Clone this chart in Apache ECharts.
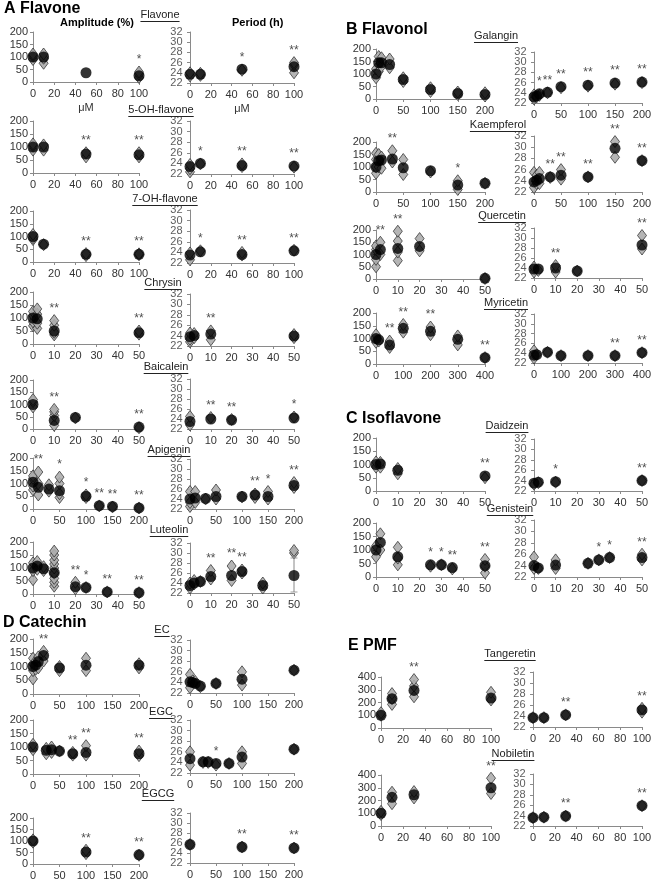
<!DOCTYPE html>
<html><head><meta charset="utf-8">
<script src="https://cdn.jsdelivr.net/npm/echarts@6/dist/echarts.min.js"></script>
<style>html,body{margin:0;padding:0;background:#fff}#c{width:661px;height:886px}</style>
</head><body><div id="c"></div>
<script>
// ---------------- DATA ----------------
const periodTicks = [22, 24, 26, 28, 30, 32];

const flavone_dose = [0, 10, 50, 100];
const flavone_amp = [100, 100, 37, 25];
const flavone_ampStar = ['', '', '', '*'];
const flavone_ampInd = [[90, 105, 112], [75, 95, 112], [], [18, 32, 40]];
const flavone_per = [23.7, 23.7, 24.7, 25.2];
const flavone_perStar = ['', '', '*', '**'];
const flavone_perInd = [[23.4, 24.0], [23.5, 23.9], [24.5], [24.0, 25.6, 26.0]];

const oh5_dose = [0, 10, 50, 100];
const oh5_amp = [100, 100, 73, 70];
const oh5_ampStar = ['', '', '**', '**'];
const oh5_ampInd = [[88, 105, 112], [88, 108], [62, 78], [62, 78]];
const oh5_per = [23.4, 24.0, 23.6, 23.5];
const oh5_perStar = ['', '*', '**', '**'];
const oh5_perInd = [[22.4, 23.0, 23.8], [23.9], [23.4, 23.9], [23.3]];

const oh7_dose = [0, 10, 50, 100];
const oh7_amp = [100, 70, 30, 30];
const oh7_ampStar = ['', '', '**', '**'];
const oh7_ampInd = [[88, 95, 108], [68], [25, 33], [28, 32]];
const oh7_per = [23.5, 24.1, 23.6, 24.3];
const oh7_perStar = ['', '*', '**', '**'];
const oh7_perInd = [[22.6, 23.9], [24.3], [23.5, 24.0], [24.4]];

const chrysin_dose = [0, 2, 10, 50];
const chrysin_amp = [100, 97, 50, 43];
const chrysin_ampStar = ['', '', '**', '**'];
const chrysin_ampInd = [[70, 85, 110, 125], [60, 80, 115, 135], [35, 45, 72, 90], [38, 50]];
const chrysin_per = [23.8, 24.0, 24.3, 23.9];
const chrysin_perStar = ['', '', '**', ''];
const chrysin_perInd = [[22.8, 23.3, 24.5], [23.6, 24.4], [23.2, 24.9], [23.6, 24.2]];

const baicalein_dose = [0, 10, 20, 50];
const baicalein_amp = [100, 35, 47, 8];
const baicalein_ampStar = ['', '**', '', '**'];
const baicalein_ampInd = [[90, 112, 120], [15, 55, 70, 80], [45], [5]];
const baicalein_per = [23.5, 24.0, 23.8, 24.2];
const baicalein_perStar = ['', '**', '**', '*'];
const baicalein_perInd = [[22.8, 24.5], [24.3], [23.9], [24.4]];

const apigenin_dose = [0, 10, 30, 50, 100, 125, 150, 200];
const apigenin_amp = [105, 85, 78, 72, 50, 13, 10, 4];
const apigenin_ampStar = ['', '**', '', '*', '*', '**', '**', '**'];
const apigenin_ampInd = [[75, 90, 120, 130], [55, 100, 145], [70, 95], [45, 60, 100, 125], [45, 55], [12], [8], [4]];
const apigenin_per = [24.0, 24.2, 24.1, 24.5, 24.5, 24.8, 24.5, 26.7];
const apigenin_perStar = ['', '', '', '', '', '**', '*', '**'];
const apigenin_perInd = [[22.5, 23.3, 25.5], [23.3, 25.5], [24.0], [24.0, 25.8], [24.4], [24.3, 25.0], [24.0, 25.5], [26.3, 27.3]];

const luteolin_dose = [0, 2, 5, 10, 20, 25, 35, 50];
const luteolin_amp = [100, 108, 97, 82, 28, 25, 8, 5];
const luteolin_ampStar = ['', '', '', '', '**', '*', '**', '**'];
const luteolin_ampInd = [[55, 90, 120], [95, 125], [90, 105], [30, 45, 60, 80, 100, 115, 130, 150, 165], [20, 45], [25], [8], [5]];
const luteolin_per = [23.5, 24.0, 24.3, 25.3, 25.5, 26.3, 23.5, 25.5];
const luteolin_perStar = ['', '', '', '**', '**', '**', '', ''];
const luteolin_perInd = [[23.0, 24.0], [23.8, 24.5], [24.3], [24.8, 26.5], [24.5, 27.4], [26.0, 26.6], [23.0, 24.0], [30.0, 30.5]];
const luteolin_perErr = [null, null, null, null, null, null, null, [22.2, 29.0]];

const ec_dose = [0, 5, 10, 20, 50, 100, 200];
const ec_amp = [100, 105, 118, 140, 95, 105, 105];
const ec_ampStar = ['', '', '', '**', '', '', ''];
const ec_ampInd = [[55, 85, 110, 130], [90, 120], [95, 135], [120, 155], [85, 100], [85, 130], [95, 110]];
const ec_per = [24.1, 24.0, 23.8, 23.3, 23.8, 24.6, 26.3];
const ec_perStar = ['', '', '', '', '', '', ''];
const ec_perInd = [[23.0, 25.5], [24.3], [24.2], [23.2], [23.8], [23.5, 26.0], [26.3]];

const egc_dose = [0, 25, 35, 50, 75, 100, 200];
const egc_amp = [100, 88, 90, 85, 75, 80, 75];
const egc_ampStar = ['', '', '', '', '**', '**', '**'];
const egc_ampInd = [[90, 110], [75, 95], [80, 100], [85], [70, 80], [70, 105], [68, 85]];
const egc_per = [24.7, 24.1, 24.1, 23.8, 23.8, 25.0, 26.5];
const egc_perStar = ['', '', '', '*', '', '', ''];
const egc_perInd = [[23.5, 26.0], [24.0], [24.0], [23.5], [23.8], [23.8, 26.0], [26.5]];

const egcg_dose = [0, 100, 200];
const egcg_amp = [100, 52, 40];
const egcg_ampStar = ['', '**', '**'];
const egcg_ampInd = [[95, 105], [45, 60], [38]];
const egcg_per = [25.7, 25.2, 25.0];
const egcg_perStar = ['', '**', '**'];
const egcg_perInd = [[25.7], [25.2], [25.0]];

const galangin_dose = [0, 5, 10, 25, 50, 100, 150, 200];
const galangin_amp = [100, 145, 145, 138, 78, 38, 22, 18];
const galangin_ampStar = ['', '', '', '', '', '', '', ''];
const galangin_ampInd = [[85, 120], [110, 170], [130, 165], [125, 160], [70, 85], [30, 45], [18, 28], [12, 25]];
const galangin_per = [23.2, 23.4, 23.8, 24.1, 25.2, 25.5, 25.9, 26.1];
const galangin_perStar = ['', '', '*', '**', '**', '**', '**', '**'];
const galangin_perInd = [[22.8, 23.6], [23.2], [23.5], [24.0], [25.0], [25.3], [25.7], [26.0]];

const kaempferol_dose = [0, 5, 10, 30, 50, 100, 150, 200];
const kaempferol_amp = [100, 125, 128, 132, 97, 85, 28, 35];
const kaempferol_ampStar = ['', '', '', '**', '', '', '*', ''];
const kaempferol_ampInd = [[75, 100, 130, 155], [100, 150], [95, 140], [120, 165], [70, 130], [80], [10, 45], [35]];
const kaempferol_per = [23.8, 24.1, 24.4, 24.7, 25.0, 24.7, 29.8, 27.6];
const kaempferol_perStar = ['', '', '', '**', '**', '**', '**', '**'];
const kaempferol_perInd = [[22.8, 25.5], [23.5, 25.0], [23.5, 25.5], [24.6], [24.3, 26.0], [24.7], [28.2, 31.0], [27.6]];

const quercetin_dose = [0, 2, 10, 20, 50];
const quercetin_amp = [100, 120, 125, 133, 3];
const quercetin_ampStar = ['', '**', '**', '', ''];
const quercetin_ampInd = [[50, 80, 120, 135], [100, 150], [75, 110, 155, 195], [115, 165], [2]];
const quercetin_per = [23.8, 23.8, 24.0, 23.4, 28.6];
const quercetin_perStar = ['', '', '**', '', '**'];
const quercetin_perInd = [[23.2, 24.2], [23.5], [23.2, 24.5], [23.4], [27.8, 30.5]];

const myricetin_dose = [0, 10, 50, 100, 200, 300, 400];
const myricetin_amp = [100, 95, 75, 140, 128, 97, 25];
const myricetin_ampStar = ['', '', '**', '**', '**', '', '**'];
const myricetin_ampInd = [[85, 115], [90], [65, 90], [125, 155], [115, 145], [75, 110], [25]];
const myricetin_per = [23.6, 23.7, 24.2, 23.5, 23.5, 23.5, 24.1];
const myricetin_perStar = ['', '', '', '', '', '**', '**'];
const myricetin_perInd = [[23.0, 24.5], [23.7], [24.2], [23.5], [23.5], [23.5], [24.1]];

const daidzein_dose = [0, 2, 10, 50];
const daidzein_amp = [100, 102, 78, 57];
const daidzein_ampStar = ['', '', '', '**'];
const daidzein_ampInd = [[90, 110], [90, 108], [65, 85], [50]];
const daidzein_per = [23.5, 23.7, 23.8, 24.0];
const daidzein_perStar = ['', '', '*', '**'];
const daidzein_perInd = [[23.3], [23.6], [23.7], [24.0]];

const genistein_dose = [0, 2, 10, 25, 30, 35, 50];
const genistein_amp = [100, 128, 75, 45, 45, 35, 42];
const genistein_ampStar = ['', '', '', '*', '*', '**', '**'];
const genistein_ampInd = [[75, 115], [100, 160], [45, 70, 110], [40], [45], [30], [15, 40, 65]];
const genistein_per = [24.0, 23.6, 24.1, 24.4, 25.0, 25.4, 25.4];
const genistein_perStar = ['', '', '', '', '*', '*', '**'];
const genistein_perInd = [[23.5, 25.5], [23.5], [23.5, 25.0], [24.4], [25.0], [25.4], [25.0, 26.0]];

const tangeretin_dose = [0, 10, 30, 100];
const tangeretin_amp = [100, 230, 295, 235];
const tangeretin_ampStar = ['', '', '**', ''];
const tangeretin_ampInd = [[100, 120], [185, 230, 270], [245, 330, 380], [220, 280]];
const tangeretin_per = [23.7, 23.7, 24.2, 25.1];
const tangeretin_perStar = ['', '', '**', '**'];
const tangeretin_perInd = [[23.7], [23.7], [24.2], [24.7, 25.4]];

const nobiletin_dose = [0, 10, 30, 100];
const nobiletin_amp = [100, 225, 245, 300];
const nobiletin_ampStar = ['', '', '', '**'];
const nobiletin_ampInd = [[90, 115], [175, 265], [220, 270], [255, 375]];
const nobiletin_per = [23.6, 23.7, 23.9, 25.9];
const nobiletin_perStar = ['', '', '**', '**'];
const nobiletin_perInd = [[23.6], [23.7], [23.9], [25.9]];

// ---------------- LAYOUT ----------------
const FONT = "'Liberation Sans', Arial, sans-serif";
const L = { aL: 33, aW: 106, pL: 190, pW: 104 };
const R = { aL: 376, aW: 109, pL: 534, pW: 108 };
const RP = { aL: 381, aW: 110, pL: 533, pW: 109 };

const panels = [
  { t: 'Flavone', c: L, d: flavone_dose, a: flavone_amp, as: flavone_ampStar, ai: flavone_ampInd, p: flavone_per, ps: flavone_perStar, pi: flavone_perInd, aT: 32, aH: 50, pT: 32, pH: 51, xm: 100, xi: 20, tx: 160, ty: 15, unit: true },
  { t: '5-OH-flavone', c: L, d: oh5_dose, a: oh5_amp, as: oh5_ampStar, ai: oh5_ampInd, p: oh5_per, ps: oh5_perStar, pi: oh5_perInd, aT: 121, aH: 52, pT: 121, pH: 53, xm: 100, xi: 20, tx: 161, ty: 110 },
  { t: '7-OH-flavone', c: L, d: oh7_dose, a: oh7_amp, as: oh7_ampStar, ai: oh7_ampInd, p: oh7_per, ps: oh7_perStar, pi: oh7_perInd, aT: 211, aH: 51, pT: 210, pH: 53, xm: 100, xi: 20, tx: 165, ty: 199 },
  { t: 'Chrysin', c: L, d: chrysin_dose, a: chrysin_amp, as: chrysin_ampStar, ai: chrysin_ampInd, p: chrysin_per, ps: chrysin_perStar, pi: chrysin_perInd, aT: 292, aH: 52, pT: 294, pH: 52, xm: 50, xi: 10, tx: 163, ty: 283 },
  { t: 'Baicalein', c: L, d: baicalein_dose, a: baicalein_amp, as: baicalein_ampStar, ai: baicalein_ampInd, p: baicalein_per, ps: baicalein_perStar, pi: baicalein_perInd, aT: 380, aH: 49, pT: 379, pH: 50, xm: 50, xi: 10, tx: 166, ty: 367 },
  { t: 'Apigenin', c: L, d: apigenin_dose, a: apigenin_amp, as: apigenin_ampStar, ai: apigenin_ampInd, p: apigenin_per, ps: apigenin_perStar, pi: apigenin_perInd, aT: 458, aH: 51, pT: 459, pH: 50, xm: 200, xi: 50, tx: 169, ty: 450 },
  { t: 'Luteolin', c: L, d: luteolin_dose, a: luteolin_amp, as: luteolin_ampStar, ai: luteolin_ampInd, p: luteolin_per, ps: luteolin_perStar, pi: luteolin_perInd, pe: luteolin_perErr, aT: 542, aH: 52, pT: 543, pH: 50, xm: 50, xi: 10, tx: 169, ty: 530 },
  { t: 'EC', c: L, d: ec_dose, a: ec_amp, as: ec_ampStar, ai: ec_ampInd, p: ec_per, ps: ec_perStar, pi: ec_perInd, aT: 639, aH: 55, pT: 640, pH: 53, xm: 200, xi: 50, tx: 162, ty: 630 },
  { t: 'EGC', c: L, d: egc_dose, a: egc_amp, as: egc_ampStar, ai: egc_ampInd, p: egc_per, ps: egc_perStar, pi: egc_perInd, aT: 720, aH: 54, pT: 720, pH: 53, xm: 200, xi: 50, tx: 161, ty: 712 },
  { t: 'EGCG', c: L, d: egcg_dose, a: egcg_amp, as: egcg_ampStar, ai: egcg_ampInd, p: egcg_per, ps: egcg_perStar, pi: egcg_perInd, aT: 818, aH: 46, pT: 813, pH: 50, xm: 200, xi: 50, tx: 158, ty: 794 },
  { t: 'Galangin', c: R, d: galangin_dose, a: galangin_amp, as: galangin_ampStar, ai: galangin_ampInd, p: galangin_per, ps: galangin_perStar, pi: galangin_perInd, aT: 49, aH: 50, pT: 52, pH: 51, xm: 200, xi: 50, tx: 496, ty: 36 },
  { t: 'Kaempferol', c: R, d: kaempferol_dose, a: kaempferol_amp, as: kaempferol_ampStar, ai: kaempferol_ampInd, p: kaempferol_per, ps: kaempferol_perStar, pi: kaempferol_perInd, aT: 142, aH: 50, pT: 136, pH: 56, xm: 200, xi: 50, tx: 498, ty: 125 },
  { t: 'Quercetin', c: R, d: quercetin_dose, a: quercetin_amp, as: quercetin_ampStar, ai: quercetin_ampInd, p: quercetin_per, ps: quercetin_perStar, pi: quercetin_perInd, aT: 230, aH: 49, pT: 228, pH: 50, xm: 50, xi: 10, tx: 502, ty: 216 },
  { t: 'Myricetin', c: R, d: myricetin_dose, a: myricetin_amp, as: myricetin_ampStar, ai: myricetin_ampInd, p: myricetin_per, ps: myricetin_perStar, pi: myricetin_perInd, aT: 313, aH: 51, pT: 314, pH: 49, xm: 400, xi: 100, tx: 506, ty: 303 },
  { t: 'Daidzein', c: R, d: daidzein_dose, a: daidzein_amp, as: daidzein_ampStar, ai: daidzein_ampInd, p: daidzein_per, ps: daidzein_perStar, pi: daidzein_perInd, aT: 438, aH: 53, pT: 439, pH: 52, xm: 50, xi: 10, tx: 507, ty: 426 },
  { t: 'Genistein', c: R, d: genistein_dose, a: genistein_amp, as: genistein_ampStar, ai: genistein_ampInd, p: genistein_per, ps: genistein_perStar, pi: genistein_perInd, aT: 523, aH: 54, pT: 520, pH: 57, xm: 50, xi: 10, tx: 510, ty: 509 },
  { t: 'Tangeretin', c: RP, d: tangeretin_dose, a: tangeretin_amp, as: tangeretin_ampStar, ai: tangeretin_ampInd, p: tangeretin_per, ps: tangeretin_perStar, pi: tangeretin_perInd, aT: 677, aH: 51, pT: 672, pH: 55, xm: 100, xi: 20, am: 400, ami: 100, tx: 510, ty: 654 },
  { t: 'Nobiletin', c: RP, d: nobiletin_dose, a: nobiletin_amp, as: nobiletin_ampStar, ai: nobiletin_ampInd, p: nobiletin_per, ps: nobiletin_perStar, pi: nobiletin_perInd, aT: 775, aH: 51, pT: 774, pH: 52, xm: 100, xi: 20, am: 400, ami: 100, tx: 513, ty: 754 }
];

const headers = [
  { text: 'A Flavone', x: 4, y: 10 },
  { text: 'B Flavonol', x: 346, y: 31 },
  { text: 'C Isoflavone', x: 346, y: 420 },
  { text: 'D Catechin', x: 3, y: 624 },
  { text: 'E PMF', x: 348, y: 647 }
];

// ---------------- BUILD ----------------
const grid = [], xAxis = [], yAxis = [], series = [], graphic = [];
const axisLineStyle = { color: '#8a8a8a', width: 1 };
const lbl = { fontFamily: FONT, fontSize: 11, color: '#333' };

const measure = (() => {
  const cv = document.createElement('canvas').getContext('2d');
  return (txt, font) => { cv.font = font; return cv.measureText(txt).width; };
})();

function addPlot(left, top, width, height, xm, xi, ymin, ymax, yi, doses, vals, ind, stars, err, unit, ownTicks) {
  const gi = grid.length;
  grid.push({ left: left, top: top, width: width, height: height, containLabel: false });
  xAxis.push({
    type: 'value', gridIndex: gi, min: 0, max: xm, interval: xi,
    axisLine: { show: true, onZero: false, lineStyle: axisLineStyle },
    axisTick: { show: true, length: 3, inside: false, lineStyle: axisLineStyle },
    axisLabel: Object.assign({ margin: 6, showMinLabel: true, showMaxLabel: true, hideOverlap: false }, lbl),
    splitLine: { show: false },
    name: unit ? 'μM' : '', nameLocation: 'middle', nameGap: 20,
    nameTextStyle: { fontFamily: FONT, fontSize: 11, color: '#333' }
  });
  yAxis.push({
    type: 'value', gridIndex: gi, min: ymin, max: ymax, interval: yi,
    axisLine: { show: true, lineStyle: axisLineStyle },
    axisTick: { show: true, length: 3, lineStyle: axisLineStyle },
    axisLabel: Object.assign({ show: !ownTicks, margin: 5, showMinLabel: true, showMaxLabel: true }, lbl),
    splitLine: { show: false }
  });
  if (ownTicks) {
    // tick labels drawn at the axis through the axis scale (labels would otherwise be auto-thinned)
    series.push({
      type: 'scatter', xAxisIndex: gi, yAxisIndex: gi, clip: false, silent: true, z: 1,
      data: ownTicks.map(v => [0, v]), symbol: 'circle', symbolSize: 1,
      itemStyle: { color: 'rgba(0,0,0,0)' },
      label: { show: true, position: 'left', distance: 7, formatter: p => String(p.value[1]),
        fontFamily: FONT, fontSize: 11, color: '#333' }
    });
  }
  const indData = [];
  doses.forEach((d, i) => (ind[i] || []).forEach(v => indData.push([d, v])));
  series.push({
    type: 'scatter', xAxisIndex: gi, yAxisIndex: gi, data: indData, clip: false, silent: true,
    symbol: 'diamond', symbolSize: [9, 12], z: 2,
    itemStyle: { color: '#adadad', borderColor: '#2a2a2a', borderWidth: 0.8, opacity: 0.9 }
  });
  if (err) {
    doses.forEach((d, i) => {
      if (!err[i]) return;
      series.push({
        type: 'line', xAxisIndex: gi, yAxisIndex: gi, silent: true, symbol: 'none', z: 3,
        data: [[d, err[i][0]], [d, err[i][1]]], lineStyle: { color: '#888', width: 1 }
      });
      series.push({
        type: 'scatter', xAxisIndex: gi, yAxisIndex: gi, silent: true, clip: false, z: 3,
        data: [[d, err[i][0]], [d, err[i][1]]], symbol: 'rect', symbolSize: [7, 1],
        itemStyle: { color: '#888' }
      });
    });
  }
  series.push({
    type: 'scatter', xAxisIndex: gi, yAxisIndex: gi, clip: false, silent: true,
    data: doses.map((d, i) => [d, vals[i]]), symbol: 'circle', symbolSize: 11, z: 4,
    itemStyle: { color: '#000' }
  });
  const sData = [];
  doses.forEach((d, i) => {
    if (stars[i]) sData.push([d, Math.max(vals[i], ...(ind[i] || [])), stars[i]]);
  });
  series.push({
    type: 'scatter', xAxisIndex: gi, yAxisIndex: gi, clip: false, silent: true, z: 5,
    data: sData, symbol: 'circle', symbolSize: 12, itemStyle: { color: 'rgba(0,0,0,0)' },
    label: {
      show: true, position: 'top', distance: 0, formatter: p => p.value[2],
      fontFamily: FONT, fontSize: 12, color: '#222'
    }
  });
}

panels.forEach(p => {
  addPlot(p.c.aL, p.aT, p.c.aW, p.aH, p.xm, p.xi, 0, p.am || 200, p.ami || 50, p.d, p.a, p.ai, p.as, null, p.unit, null);
  addPlot(p.c.pL, p.pT, p.c.pW, p.pH, p.xm, p.xi, 22, 32, 2, p.d, p.p, p.pi, p.ps, p.pe, p.unit, periodTicks);
  const tf = '11px ' + FONT;
  const w = measure(p.t, tf);
  graphic.push({
    type: 'text', left: p.tx - w / 2, top: p.ty - 6, silent: true,
    style: { text: p.t, font: tf, fill: '#222' }
  });
  graphic.push({
    type: 'rect', left: p.tx - w / 2, top: p.ty + 6, silent: true,
    shape: { width: w, height: 1 }, style: { fill: '#222' }
  });
});

headers.forEach(h => graphic.push({
  type: 'text', left: h.x, top: h.y - 9, silent: true,
  style: { text: h.text, font: 'bold 16px ' + FONT, fill: '#000' }
}));
graphic.push({ type: 'text', left: 60, top: 17, silent: true, style: { text: 'Amplitude (%)', font: 'bold 11px ' + FONT, fill: '#000' } });
graphic.push({ type: 'text', left: 232, top: 17, silent: true, style: { text: 'Period (h)', font: 'bold 11px ' + FONT, fill: '#000' } });

const chart = echarts.init(document.getElementById('c'), null, { renderer: 'canvas' });
chart.setOption({
  animation: false, backgroundColor: '#fff',
  grid, xAxis, yAxis, series, graphic
});
</script>
</body></html>
